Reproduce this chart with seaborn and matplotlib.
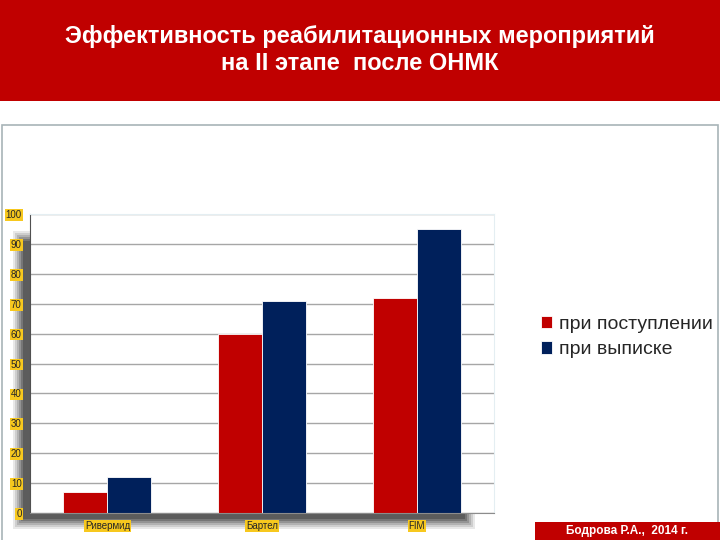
import pandas as pd
import matplotlib
matplotlib.use("Agg")
import matplotlib.pyplot as plt
import matplotlib.patches as mpatches
import seaborn as sns

# Данные
categories = ["Ривермид", "Бартел", "FIM"]
series_names = ["при поступлении", "при выписке"]
admission = [7, 60, 72]
discharge = [12, 71, 95]
y_ticks = [0, 10, 20, 30, 40, 50, 60, 70, 80, 90, 100]

title_text = "Эффективность реабилитационных мероприятий\nна II этапе  после ОНМК"
footer_text = "Бодрова Р.А.,  2014 г."

RED = "#c00000"
NAVY = "#00205b"
YELLOW = "#f7c81e"


def build_frame():
    rows = []
    for cat, a, d in zip(categories, admission, discharge):
        rows.append({"cat": cat, "series": series_names[0], "value": a})
        rows.append({"cat": cat, "series": series_names[1], "value": d})
    return pd.DataFrame(rows)


def plot_chart(data):
    sns.set_style("white")
    plt.rcParams["font.family"] = ["Liberation Sans", "DejaVu Sans"]

    fig = plt.figure(figsize=(7.2, 5.4), dpi=100)
    W, H = 720.0, 540.0

    def fx(px):
        return px / W

    def fy(py):
        return 1 - py / H

    # Красная шапка
    fig.patches.append(mpatches.Rectangle((0, fy(101)), 1, 101 / H, transform=fig.transFigure,
                                          facecolor=RED, edgecolor="none", zorder=0))
    fig.text(0.5, fy(50), title_text, ha="center", va="center", color="white",
             fontsize=17, fontweight="bold", linespacing=1.25)

    # Рамка панели
    fig.patches.append(mpatches.Rectangle((fx(2), fy(545)), fx(716), 420 / H, transform=fig.transFigure,
                                          facecolor="white", edgecolor="#a8b4b8", lw=1.2, zorder=0))

    # Тень под графиком
    for i, a in enumerate([0.10, 0.13, 0.16, 0.20, 0.25, 0.3]):
        inset = i * 2
        fig.patches.append(mpatches.Rectangle((fx(13 + inset), fy(529 - inset)),
                                              fx(462 - 2 * inset), (298 - 2 * inset) / H,
                                              transform=fig.transFigure, facecolor="#202020",
                                              edgecolor="none", alpha=a, zorder=1))

    ax = fig.add_axes([fx(30), fy(513), fx(464), 299 / H])
    ax.set_zorder(2)
    sns.barplot(data=data, x="cat", y="value", hue="series", palette=[RED, NAVY],
                width=0.57, saturation=1, ax=ax, legend=True, edgecolor="white", linewidth=0.6)

    ax.set_xlim(-0.5, 2.5)
    ax.set_ylim(0, 100)
    ax.set_yticks(y_ticks)
    ax.set_xlabel("")
    ax.set_ylabel("")
    ax.yaxis.grid(True, color="#a6a6a6", linewidth=1)
    ax.set_axisbelow(True)
    for side in ["top", "right"]:
        ax.spines[side].set_color("#e4eef2")
    ax.spines["left"].set_color("#505050")
    ax.spines["bottom"].set_color("#8c8c8c")
    ax.tick_params(axis="y", length=3, color="#808080", pad=3)
    ax.tick_params(axis="x", length=0, pad=6)
    for lbl in ax.get_yticklabels() + ax.get_xticklabels():
        lbl.set_fontsize(7)
        lbl.set_bbox(dict(facecolor=YELLOW, edgecolor="none", pad=0.6))
    for lbl in ax.get_yticklabels():
        lbl.set_horizontalalignment("right")

    handles, labels = ax.get_legend_handles_labels()
    ax.get_legend().remove()
    fig.legend(handles, labels, loc="upper left", bbox_to_anchor=(fx(523), fy(298)),
               frameon=False, fontsize=14, handlelength=0.6, handleheight=0.6,
               handletextpad=0.35, labelspacing=0.45)

    # Подпись автора
    fig.patches.append(mpatches.Rectangle((fx(535), 0), fx(185), 18 / H, transform=fig.transFigure,
                                          facecolor=RED, edgecolor="none", zorder=3))
    fig.text(fx(627), fy(531), footer_text, ha="center", va="center", color="white",
             fontsize=8.5, fontweight="bold", zorder=4)

    fig.savefig("out.png", dpi=100)


if __name__ == "__main__":
    plot_chart(build_frame())
